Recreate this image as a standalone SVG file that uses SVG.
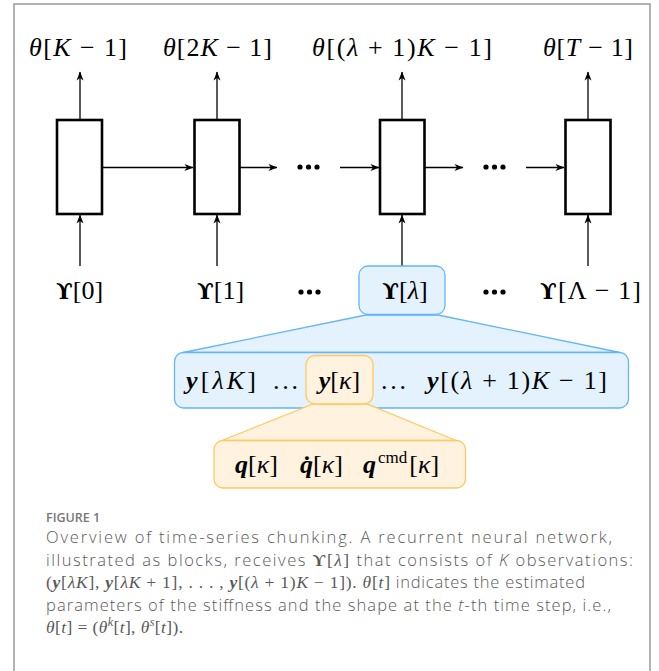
<svg xmlns="http://www.w3.org/2000/svg" width="659" height="671" viewBox="0 0 659 671">
<style>
.frame{fill:none;stroke:#9a9a9a;stroke-width:1.5}
.blk{fill:#fff;stroke:#000;stroke-width:2.6}
.ar{stroke:#000;stroke-width:1.3;fill:none}
.m{font-family:"Liberation Serif","DejaVu Serif",serif;font-size:26px;fill:#000}
.i{font-style:italic}
.b{font-weight:bold;font-style:italic}
.up{font-family:"DejaVu Serif",serif;font-weight:bold;font-size:22px}
.bluebox{fill:#e3f2fd;stroke:#64b5f6;stroke-width:1.3}
.orbox{fill:#fff3e0;stroke:#ffc861;stroke-width:1.3}
.cap{font-family:"Open Sans","Lato",sans-serif;font-weight:300;font-size:16.5px;fill:#5a5a5a}
.capm{font-family:"Liberation Serif","DejaVu Serif",serif;font-size:17.5px}
.fig{font-family:"Open Sans","Lato",sans-serif;font-weight:600;font-size:12.5px;fill:#777}
</style>
<defs>
<marker id="ah" markerWidth="10" markerHeight="8" refX="9" refY="4" orient="auto" markerUnits="userSpaceOnUse">
<path d="M0.5,0.5 L9.5,4 L0.5,7.5 L3,4 z" fill="#000"/>
</marker>
</defs>
<rect class="frame" x="14" y="4" width="636" height="680"/>

<g id="connectors">
<line class="ar" x1="80" y1="120" x2="80" y2="72" marker-end="url(#ah)"/>
<line class="ar" x1="217" y1="120" x2="217" y2="72" marker-end="url(#ah)"/>
<line class="ar" x1="402" y1="120" x2="402" y2="72" marker-end="url(#ah)"/>
<line class="ar" x1="588" y1="120" x2="588" y2="72" marker-end="url(#ah)"/>
<line class="ar" x1="80" y1="266" x2="80" y2="215" marker-end="url(#ah)"/>
<line class="ar" x1="217" y1="266" x2="217" y2="215" marker-end="url(#ah)"/>
<line class="ar" x1="402" y1="266" x2="402" y2="215" marker-end="url(#ah)"/>
<line class="ar" x1="588" y1="266" x2="588" y2="215" marker-end="url(#ah)"/>
<line class="ar" x1="102" y1="167.5" x2="193" y2="167.5" marker-end="url(#ah)"/>
<line class="ar" x1="240" y1="167.5" x2="277" y2="167.5" marker-end="url(#ah)"/>
<line class="ar" x1="340" y1="167.5" x2="379" y2="167.5" marker-end="url(#ah)"/>
<line class="ar" x1="424" y1="167.5" x2="463" y2="167.5" marker-end="url(#ah)"/>
<line class="ar" x1="526" y1="167.5" x2="564" y2="167.5" marker-end="url(#ah)"/>
</g>

<g id="dots">
<circle cx="300" cy="167" r="2.6"/><circle cx="308.5" cy="167" r="2.6"/><circle cx="317" cy="167" r="2.6"/>
<circle cx="486" cy="167" r="2.6"/><circle cx="494.5" cy="167" r="2.6"/><circle cx="503" cy="167" r="2.6"/>
<circle cx="301" cy="292" r="2.6"/><circle cx="309.5" cy="292" r="2.6"/><circle cx="318" cy="292" r="2.6"/>
<circle cx="486" cy="292" r="2.6"/><circle cx="494.5" cy="292" r="2.6"/><circle cx="503" cy="292" r="2.6"/>
</g>

<g id="block1"><rect class="blk" x="57" y="120" width="45" height="94"/></g>
<g id="block2"><rect class="blk" x="194.5" y="120" width="45" height="94"/></g>
<g id="block3"><rect class="blk" x="380" y="120" width="44.5" height="94"/></g>
<g id="block4"><rect class="blk" x="565.5" y="120" width="45" height="94"/></g>

<g id="outputs">
<text class="m" x="78" y="56" text-anchor="middle" textLength="98" lengthAdjust="spacing"><tspan class="i">θ</tspan>[<tspan class="i">K</tspan> − 1]</text>
<text class="m" x="217.5" y="56" text-anchor="middle" textLength="109" lengthAdjust="spacing"><tspan class="i">θ</tspan>[2<tspan class="i">K</tspan> − 1]</text>
<text class="m" x="402" y="56" text-anchor="middle" textLength="180" lengthAdjust="spacing"><tspan class="i">θ</tspan>[(<tspan class="i">λ</tspan> + 1)<tspan class="i">K</tspan> − 1]</text>
<text class="m" x="588" y="56" text-anchor="middle" textLength="90" lengthAdjust="spacing"><tspan class="i">θ</tspan>[<tspan class="i">T</tspan> − 1]</text>
</g>

<g id="upsilon-blue">
<polygon class="bluebox" points="366,315 183,352.5 620,352.5 438,315"/>
</g>
<g id="chunk">
<rect class="bluebox" x="174.5" y="352.5" width="454" height="55.5" rx="9"/>
<text class="m" x="186" y="389" textLength="70" lengthAdjust="spacing"><tspan class="b">y</tspan>[<tspan class="i">λK</tspan>]</text>
<text class="m" x="273" y="389" textLength="25" lengthAdjust="spacing">. . .</text>
<text class="m" x="381" y="389" textLength="25" lengthAdjust="spacing">. . .</text>
<text class="m" x="427" y="389" textLength="180" lengthAdjust="spacing"><tspan class="b">y</tspan>[(<tspan class="i">λ</tspan> + 1)<tspan class="i">K</tspan> − 1]</text>
</g>

<g id="inputs">
<text class="m" x="79.5" y="299" text-anchor="middle"><tspan class="up">ϒ</tspan>[0]</text>
<text class="m" x="220.5" y="299" text-anchor="middle"><tspan class="up">ϒ</tspan>[1]</text>
<text class="m" x="590.5" y="299" text-anchor="middle" textLength="101" lengthAdjust="spacing"><tspan class="up">ϒ</tspan>[Λ − 1]</text>
</g>
<g id="upsilon-lambda">
<rect class="bluebox" x="359" y="266" width="86" height="48.5" rx="9"/>
<text class="m" x="405" y="299" text-anchor="middle"><tspan class="up">ϒ</tspan>[<tspan class="i">λ</tspan>]</text>
</g>

<g id="obs-orange">
<polygon class="orbox" points="313,404 222,440.5 456,440.5 367,404"/>
</g>
<g id="y-kappa">
<rect class="orbox" x="306" y="355.5" width="67" height="48.5" rx="9"/>
<text class="m" x="339.5" y="389" text-anchor="middle"><tspan class="b">y</tspan>[<tspan class="i">κ</tspan>]</text>
</g>
<g id="components">
<rect class="orbox" x="214" y="440.5" width="251.5" height="47.5" rx="9"/>
<text class="m" x="235" y="473"><tspan class="b">q</tspan>[<tspan class="i">κ</tspan>]</text>
<text class="m" x="300" y="473"><tspan class="b">q̇</tspan>[<tspan class="i">κ</tspan>]</text>
<text class="m" x="363" y="473"><tspan class="b">q</tspan><tspan font-size="17" dx="2" dy="-10">cmd</tspan><tspan dx="2" dy="10">[</tspan><tspan class="i">κ</tspan>]</text>
</g>

<g id="caption">
<text class="fig" x="46" y="521.5">FIGURE 1</text>
<text class="cap" x="46" y="543" textLength="566" lengthAdjust="spacing">Overview of time-series chunking. A recurrent neural network,</text>
<text class="cap" x="46" y="565.5" textLength="587" lengthAdjust="spacing">illustrated as blocks, receives <tspan class="capm" font-weight="bold">ϒ</tspan><tspan class="capm">[<tspan font-style="italic">λ</tspan>]</tspan> that consists of <tspan font-style="italic">K</tspan> observations:</text>
<text class="cap" x="46" y="588" textLength="539" lengthAdjust="spacing"><tspan class="capm">(<tspan font-weight="bold" font-style="italic">y</tspan>[<tspan font-style="italic">λK</tspan>], <tspan font-weight="bold" font-style="italic">y</tspan>[<tspan font-style="italic">λK</tspan> + 1], . . . , <tspan font-weight="bold" font-style="italic">y</tspan>[(<tspan font-style="italic">λ</tspan> + 1)<tspan font-style="italic">K</tspan> − 1]). <tspan font-style="italic">θ</tspan>[<tspan font-style="italic">t</tspan>]</tspan> indicates the estimated</text>
<text class="cap" x="46" y="610.5" textLength="565" lengthAdjust="spacing">parameters of the stiffness and the shape at the <tspan font-style="italic">t</tspan>-th time step, i.e.,</text>
<text class="cap" x="46" y="633" textLength="137" lengthAdjust="spacing"><tspan class="capm"><tspan font-style="italic">θ</tspan>[<tspan font-style="italic">t</tspan>] = (<tspan font-style="italic">θ</tspan><tspan font-size="12" font-style="italic" dy="-7">k</tspan><tspan dy="7">[</tspan><tspan font-style="italic">t</tspan>], <tspan font-style="italic">θ</tspan><tspan font-size="12" font-style="italic" dy="-7">s</tspan><tspan dy="7">[</tspan><tspan font-style="italic">t</tspan>]).</tspan></text>
</g>
</svg>
